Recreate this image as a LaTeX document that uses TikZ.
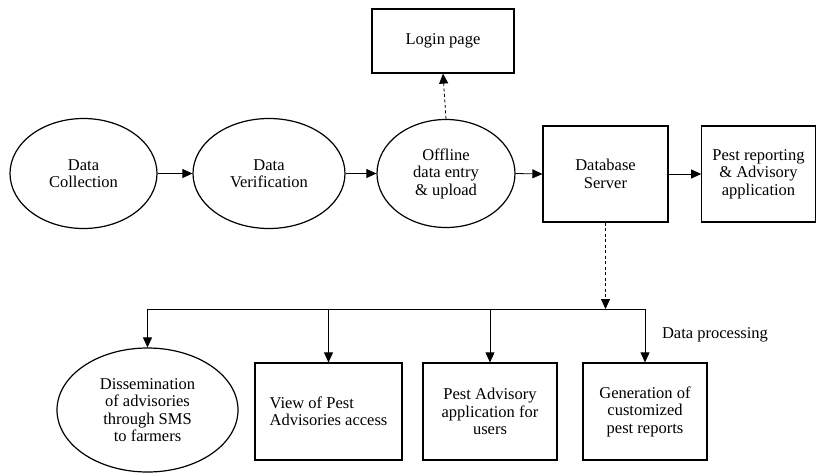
\documentclass[tikz,border=0pt]{standalone}
\usepackage{fontspec}
\setmainfont{Liberation Serif}
\usetikzlibrary{shapes.geometric,arrows.meta}
\begin{document}
\begin{tikzpicture}[x=1pt,y=1pt,
 every node/.style={font=\fontsize{16.5}{17.5}\selectfont, align=center},
 oval/.style={draw, line width=1.2pt, ellipse, inner sep=0pt},
 box/.style={draw, line width=1.2pt, rectangle, inner sep=0pt},
 conn/.style={line width=0.8pt, -{Triangle[length=10pt,width=9pt]}},
 dconn/.style={conn, dash pattern=on 3pt off 2.5pt},
 bus/.style={line width=0.8pt}
]
\useasboundingbox (0,0) rectangle (817,-472);
% top row
\node[oval, minimum width=147, minimum height=110] (dc) at (83.5,-173.5) {Data\\Collection};
\node[oval, minimum width=152, minimum height=110] (dv) at (269,-173.5) {Data\\Verification};
\node[oval, minimum width=138, minimum height=108] (off) at (446,-173.5) {Offline\\data entry\\\& upload};
\node[box, minimum width=142, minimum height=64] (login) at (443,-41) {Login page};
\node[box, minimum width=125, minimum height=96] (db) at (605.5,-174) {Database\\Server};
\node[box, minimum width=113.5, minimum height=96] (pr) at (758.5,-174) {Pest reporting\\\& Advisory\\application};
% bottom row
\node[oval, minimum width=181, minimum height=124] (dis) at (147.5,-410) {Dissemination\\of advisories\\through SMS\\to farmers};
\node[box, minimum width=147, minimum height=97, align=left] (view) at (328.5,-411.5) {View of Pest\\Advisories access};
\node[box, minimum width=134, minimum height=97] (adv) at (490,-411.5) {Pest Advisory\\application for\\users};
\node[box, minimum width=124, minimum height=97] (gen) at (645,-411.5) {Generation of\\customized\\pest reports};
\node (dp) at (715,-335) {Data processing};
% connectors
\draw[conn] (dc.east) -- (dv.west);
\draw[conn] (dv.east) -- (off.west);
\draw[conn] (off.east) -- (db.west);
\draw[conn] (db.east) -- (pr.west);
\draw[dconn] (off.north) -- (login.south);
\coordinate (junc) at (605.5,-309);
\coordinate (busl) at (147.5,-309);
\coordinate (busr) at (645,-309);
\draw[dconn] (db.south) -- (junc);
\draw[bus] (busl) -- (busr);
\draw[conn] (busl) -- (dis.north);
\draw[conn] (view.north |- busl) -- (view.north);
\draw[conn] (adv.north |- busl) -- (adv.north);
\draw[conn] (busr) -- (gen.north);
\end{tikzpicture}
\end{document}
